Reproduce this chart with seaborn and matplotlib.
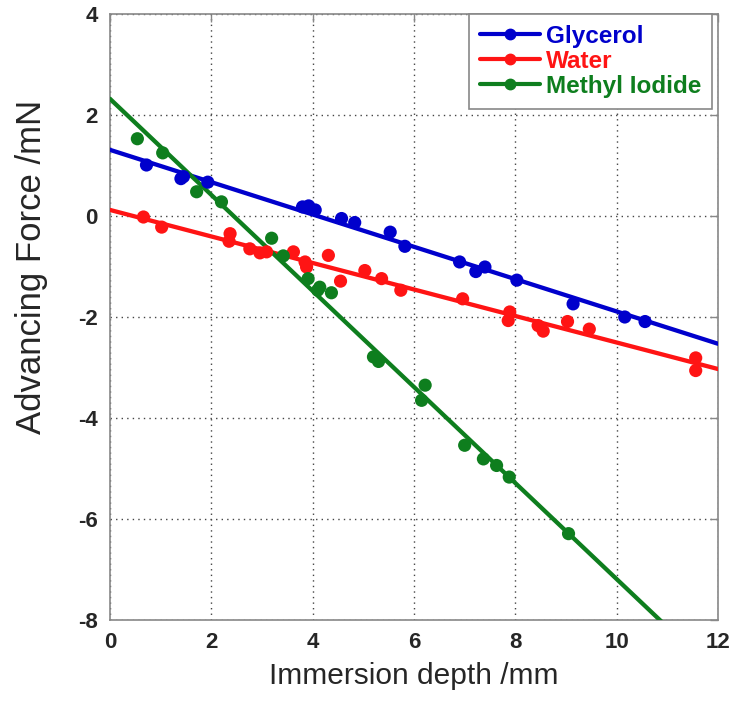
import numpy as np
import pandas as pd
import matplotlib
matplotlib.use("Agg")
import matplotlib.pyplot as plt
from matplotlib.lines import Line2D
import seaborn as sns

# Measured advancing force vs. immersion depth for three liquids
glycerol_depth = [0.72, 1.40, 1.45, 1.93, 3.80, 3.92, 4.05, 4.57, 4.83, 5.53, 5.82,
                  6.90, 7.22, 7.40, 8.03, 9.14, 10.16, 10.56]
glycerol_force = [1.01, 0.74, 0.78, 0.67, 0.18, 0.20, 0.12, -0.05, -0.13, -0.32, -0.60,
                  -0.91, -1.10, -1.01, -1.27, -1.74, -2.00, -2.09]

water_depth = [0.66, 1.02, 2.37, 2.35, 2.76, 2.96, 3.09, 3.62, 3.85, 3.88, 4.31, 4.55,
               5.03, 5.36, 5.74, 6.96, 7.89, 7.86, 8.45, 8.55, 9.03, 9.46, 11.56, 11.56]
water_force = [-0.02, -0.22, -0.35, -0.50, -0.65, -0.73, -0.71, -0.71, -0.91, -1.01,
               -0.78, -1.29, -1.08, -1.24, -1.47, -1.64, -1.90, -2.07, -2.17, -2.28,
               -2.09, -2.24, -2.81, -3.06]

methyl_depth = [0.54, 1.04, 1.71, 2.20, 3.19, 3.42, 3.91, 4.14, 4.10, 4.37, 5.20, 5.30,
                6.22, 6.15, 7.00, 7.37, 7.63, 7.88, 9.05]
methyl_force = [1.53, 1.25, 0.48, 0.28, -0.44, -0.79, -1.24, -1.41, -1.47, -1.52, -2.79,
                -2.88, -3.35, -3.65, -4.54, -4.81, -4.94, -5.17, -6.29]

# Linear fits (intercept, slope) for each liquid
series_names = ["Glycerol", "Water", "Methyl Iodide"]
fit_intercepts = [1.31, 0.12, 2.32]
fit_slopes = [-0.32, -0.2625, -0.951]

x_ticks = [0, 2, 4, 6, 8, 10, 12]
y_ticks = [-8, -6, -4, -2, 0, 2, 4]

colors = {"Glycerol": "#0000CC", "Water": "#FF1414", "Methyl Iodide": "#0E7E1E"}

points = pd.concat([
    pd.DataFrame({"depth": glycerol_depth, "force": glycerol_force, "liquid": "Glycerol"}),
    pd.DataFrame({"depth": water_depth, "force": water_force, "liquid": "Water"}),
    pd.DataFrame({"depth": methyl_depth, "force": methyl_force, "liquid": "Methyl Iodide"}),
], ignore_index=True)

fit_x = np.array([x_ticks[0], x_ticks[-1]], dtype=float)
fits = pd.concat([
    pd.DataFrame({"depth": fit_x, "force": b + m * fit_x, "liquid": name})
    for name, b, m in zip(series_names, fit_intercepts, fit_slopes)
], ignore_index=True)

sns.set_style("white")
plt.rcParams["font.family"] = ["Liberation Sans", "DejaVu Sans"]

fig = plt.figure(figsize=(7.34, 7.06), dpi=100)
ax = fig.add_axes([110 / 734, 1 - 620 / 706, 608 / 734, 606 / 706])

sns.lineplot(data=fits, x="depth", y="force", hue="liquid", palette=colors,
             hue_order=series_names, linewidth=3.1, legend=False, ax=ax, zorder=3)
sns.scatterplot(data=points, x="depth", y="force", hue="liquid", palette=colors,
                hue_order=series_names, s=90, edgecolor="none", legend=False,
                ax=ax, zorder=4)

ax.set_xlim(x_ticks[0], x_ticks[-1])
ax.set_ylim(y_ticks[0], y_ticks[-1])
ax.set_xticks(x_ticks)
ax.set_yticks(y_ticks)
ax.set_xticklabels([str(t) for t in x_ticks], fontsize=16, fontweight="bold")
ax.set_yticklabels([str(t) for t in y_ticks], fontsize=16, fontweight="bold")
ax.tick_params(direction="in", length=6, width=1, color="#888888",
               top=True, right=True, pad=9)

ax.grid(True, color="#444444", linestyle=(0, (1, 3)), linewidth=1.0)
ax.set_axisbelow(True)
for side in ["left", "right", "top", "bottom"]:
    ax.spines[side].set_visible(True)
    ax.spines[side].set_color("#888888")
    ax.spines[side].set_linewidth(1.2)

ax.set_xlabel("Immersion depth /mm", fontsize=21.5, labelpad=6)
ax.set_ylabel("Advancing Force /mN", fontsize=25)
ax.yaxis.set_label_coords((48 - 110) / 608, (620 - 267) / 606)

handles = [Line2D([0], [0], color=colors[n], lw=3, marker="o", markersize=7.5)
           for n in series_names]
leg = ax.legend(handles, series_names, loc="upper right",
                bbox_to_anchor=((712 - 110) / 608, 1.0),
                prop={"weight": "bold", "size": 17.5}, frameon=True, fancybox=False,
                edgecolor="#888888", framealpha=1, handlelength=2.45,
                labelspacing=0.08, borderpad=0.45, handletextpad=0.25,
                borderaxespad=0.0)
leg.get_frame().set_linewidth(1.2)
for text, n in zip(leg.get_texts(), series_names):
    text.set_color(colors[n])

fig.savefig("out.png", dpi=100)
